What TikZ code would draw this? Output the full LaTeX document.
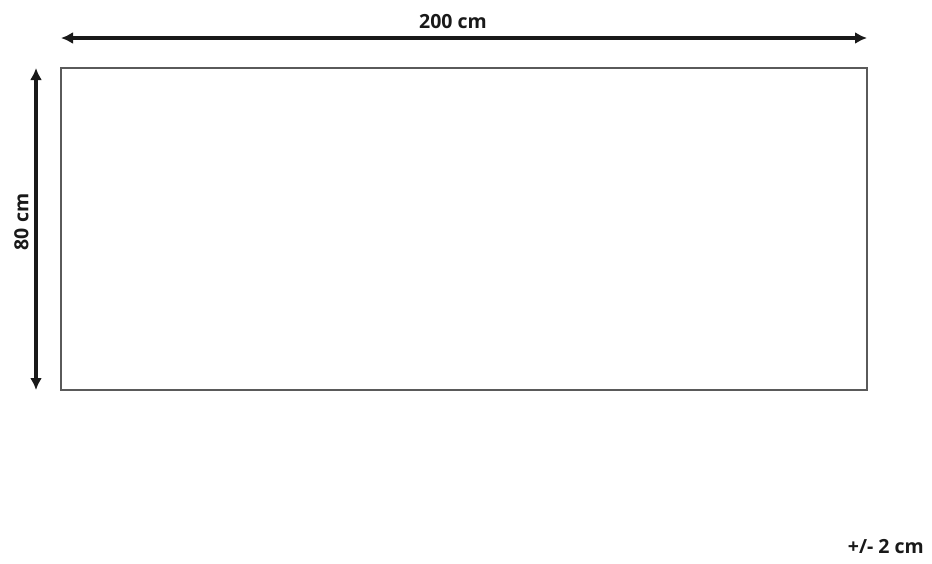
\documentclass[tikz,border=0pt]{standalone}
\usepackage{fontspec}
\setmainfont{Open Sans}
\usetikzlibrary{calc}
\usetikzlibrary{arrows.meta}
\usetikzlibrary{positioning}
\definecolor{rugline}{RGB}{90, 90, 90}
\definecolor{dimline}{RGB}{25, 25, 25}
\tikzset{
    dimarrow/.style={draw=dimline, line width=3.2pt, {Latex[length=12pt,width=12pt]}-{Latex[length=12pt,width=12pt]}},
    dimlabel/.style={font=\fontsize{19.5}{22}\selectfont\bfseries, text=dimline, inner sep=0pt},
}

\begin{document}
\begin{tikzpicture}[x=1pt, y=-1pt]
            \useasboundingbox                                             (0.00, 0.00) rectangle (932.00, 563.00);
            \draw[color=rugline, line width=1.3pt]                        (61.00, 68.00) rectangle (867.00, 390.00);
            \coordinate (topL) at ( 61.00, 38.00);
            \coordinate (topR) at (867.00, 38.00);
            \coordinate (sideT) at (36.00,  68.00);
            \coordinate (sideB) at (36.00, 390.00);
            \draw[dimarrow] (topL) -- (topR);
            \draw[dimarrow] (sideT) -- (sideB);
            \node[dimlabel] (widthlbl)  at (453.00, 21.50) {200 cm};
            \node[dimlabel, rotate=90] (heightlbl) at (21.50, 222.00) {80 cm};
            \node[dimlabel, anchor=east] (tolerance) at (924.00, 547.00) {+/- 2 cm};
\end{tikzpicture}
\end{document}
